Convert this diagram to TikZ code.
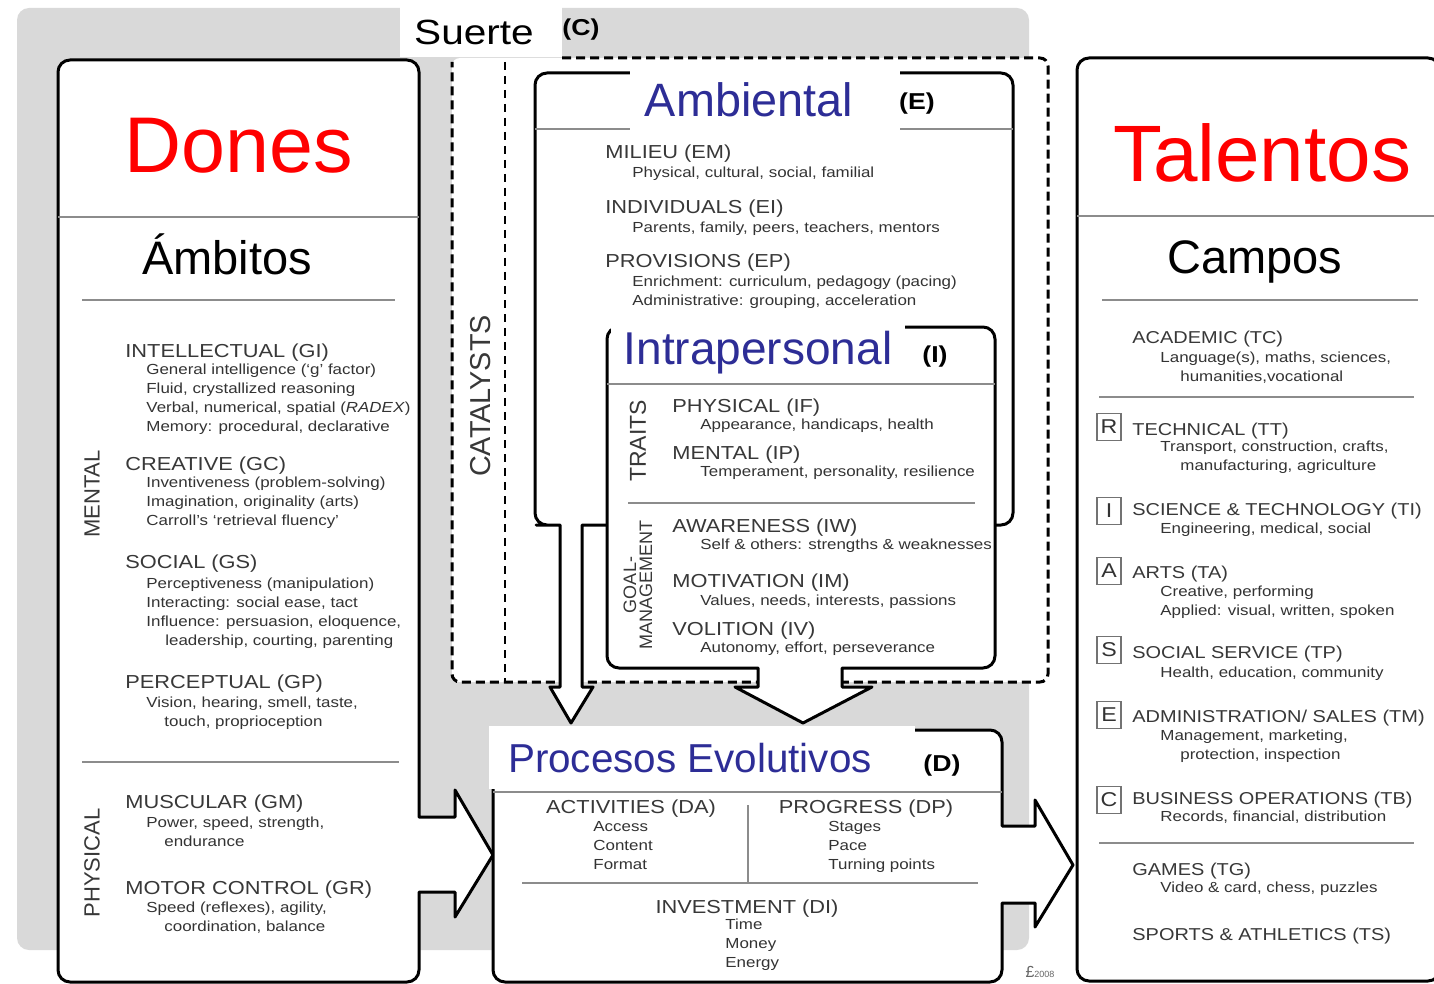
\documentclass[tikz,border=0pt]{standalone}
\usepackage{fontspec}
\setmainfont{Liberation Sans}
\newfontfamily\widefont[FakeStretch=1.16]{Liberation Sans}
\usepackage{tikz}

\definecolor{bggray}{RGB}{217,217,217}
\definecolor{titlered}{RGB}{255,0,0}
\definecolor{titleblue}{RGB}{45,45,150}

\begin{document}
\begin{tikzpicture}[x=0.5pt,y=-0.5pt,
  box/.style={draw=black, line width=1.5pt, fill=white, line join=round},
  sep/.style={draw=black!45, line width=0.75pt},
  catline/.style={line width=1.5pt, dash pattern=on 4.5pt off 2.5pt},
  head/.style={anchor=base west, inner sep=0pt, text=black!78, font=\widefont\fontsize{9.4}{11}\selectfont},
  rhead/.style={head, font=\widefont\fontsize{8.6}{11}\selectfont},
  sub/.style={anchor=north west, inner sep=0pt, align=left, text=black!80, font=\widefont\fontsize{7.3}{9.5}\selectfont},
  side/.style={rotate=90, inner sep=0pt, text=black!78},
  tag/.style={inner sep=0pt, font=\widefont\bfseries\fontsize{11.5}{13}\selectfont},
  lbox/.style={draw=black!55, line width=0.6pt, minimum width=12pt, minimum height=13.5pt, inner sep=0pt, text=black!80, font=\widefont\fontsize{10}{10}\selectfont},
  big/.style={anchor=base, inner sep=0pt}]
\useasboundingbox (0,0) rectangle (1434,984);

% background and catalysts area
\fill[bggray, rounded corners=6pt] (17,8) rectangle (1029,950);
\fill[white, rounded corners=4pt] (452,58) rectangle (1048,682);
\fill[white] (400,0) rectangle (562,57);
\draw[catline, rounded corners=4pt] (562,58) -- (1048,58) -- (1048,682) -- (452,682) -- (452,62);
\draw[line width=1pt, dash pattern=on 4pt off 3pt] (505,62) -- (505,682);

% gifts
\draw[box] (419,817) -- (419,500) [rounded corners=6pt] -- (419,60) -- (58,60) -- (58,982) -- (419,982) -- (419,940) [sharp corners] -- (419,892) -- (455,892) -- (455,917) -- (493,855) -- (455,790) -- (455,817) -- cycle;

% environment
\draw[box, rounded corners=6pt] (995,525) -- (1013,525) -- (1013,73) -- (535,73) -- (535,525) -- (548,525) [sharp corners] -- (560,525) -- (560,687) -- (550,687) -- (571,723) -- (593,687) -- (582,687) -- (582,525) -- (606,525) -- cycle;

% intrapersonal
\draw[box] (758,668) -- (758,687) -- (735,687) -- (803,723) -- (872,687) -- (842,687) -- (842,668) -- (900,668) [rounded corners=6pt] -- (995,668) -- (995,327) -- (607,327) -- (607,668) -- (700,668) [sharp corners] -- cycle;

% developmental process
\draw[box] (1002,826) -- (1035,826) -- (1035,800) -- (1073,865) -- (1035,927) -- (1035,903) -- (1002,903) -- (1002,940) [rounded corners=6pt] -- (1002,982) -- (493,982) -- (493,730) -- (1002,730) -- (1002,780) [sharp corners] -- cycle;

% talents
\draw[box, rounded corners=6pt] (1077,58) rectangle (1440,981);

\draw[sep] (58,217) -- (419,217);
\draw[sep] (82,300) -- (395,300);
\draw[sep] (82,762) -- (399,762);
\draw[sep] (535,129) -- (1013,129);
\draw[sep] (607,384) -- (995,384);
\draw[sep] (628,503) -- (975,503);
\draw[sep] (493,792) -- (1002,792);
\draw[sep] (748,805) -- (748,882);
\draw[sep] (522,883) -- (978,883);
\draw[sep] (1077,216) -- (1440,216);
\draw[sep] (1102,300) -- (1418,300);
\draw[sep] (1099,397) -- (1414,397);
\draw[sep] (1099,843) -- (1414,843);

\fill[white] (630,62) rectangle (900,132);
\fill[white] (611,316) rectangle (905,381);
\fill[white] (489,726) rectangle (915,789);

% titles
\node[big, text=titlered, font=\fontsize{39.5}{40}\selectfont] (dones) at (239,173) {Dones};
\node[big, font=\fontsize{23.5}{24}\selectfont] (ambitos) at (227,275) {Ámbitos};
\node[big, text=titlered, font=\fontsize{40}{40}\selectfont] (talentos) at (1262,182) {Talentos};
\node[big, font=\fontsize{23.5}{24}\selectfont] (campos) at (1255,273) {Campos};
\node[big, font=\widefont\fontsize{17.5}{18}\selectfont] (suerte) at (474,45) {Suerte};
\node[tag] (tagc) at (581,30) {(C)};
\node[big, text=titleblue, font=\fontsize{23.4}{24}\selectfont] (ambiental) at (749,117) {Ambiental};
\node[tag] (tage) at (917,104) {(E)};
\node[big, text=titleblue, font=\fontsize{23}{24}\selectfont] (intra) at (758,364) {Intrapersonal};
\node[tag] (tagi) at (935,357) {(I)};
\node[big, text=titleblue, font=\fontsize{20.2}{21}\selectfont] (proc) at (690,772) {Procesos Evolutivos};
\node[tag] (tagd) at (942,766) {(D)};

% gifts
\node[side, font=\fontsize{11}{13}\selectfont] (mental) at (92,494) {MENTAL};
\node[side, font=\fontsize{11}{13}\selectfont] (physical) at (92,863) {PHYSICAL};
\node[head] (gi) at (125,357) {INTELLECTUAL (GI)};
\node[sub] (gil) at (146,364) {General intelligence (‘g’ factor)\\Fluid, crystallized reasoning\\Verbal, numerical, spatial (\textit{RADEX})\\Memory: procedural, declarative};
\node[head] (gc) at (125,470) {CREATIVE (GC)};
\node[sub] (gcl) at (146,477) {Inventiveness (problem-solving)\\Imagination, originality (arts)\\Carroll’s ‘retrieval fluency’};
\node[head] (gs) at (125,568) {SOCIAL (GS)};
\node[sub] (gsl) at (146,578) {Perceptiveness (manipulation)\\Interacting: social ease, tact\\Influence: persuasion, eloquence,\\\hspace*{9.5pt}leadership, courting, parenting};
\node[head] (gp) at (125,688) {PERCEPTUAL (GP)};
\node[sub] (gpl) at (146,697) {Vision, hearing, smell, taste,\\\hspace*{9pt}touch, proprioception};
\node[head] (gm) at (125,808) {MUSCULAR (GM)};
\node[sub] (gml) at (146,817) {Power, speed, strength,\\\hspace*{9pt}endurance};
\node[head] (gr) at (125,894) {MOTOR CONTROL (GR)};
\node[sub] (grl) at (146,902) {Speed (reflexes), agility,\\\hspace*{9pt}coordination, balance};

% catalysts
\node[side, font=\fontsize{14.4}{16}\selectfont] (cat) at (481,396) {CATALYSTS};
\node[head] (em) at (605,159) {MILIEU (EM)};
\node[sub] (eml) at (632,167) {Physical, cultural, social, familial};
\node[head] (ei) at (605,214) {INDIVIDUALS (EI)};
\node[sub] (eil) at (632,222) {Parents, family, peers, teachers, mentors};
\node[head] (ep) at (605,268) {PROVISIONS (EP)};
\node[sub] (epl) at (632,276) {Enrichment: curriculum, pedagogy (pacing)\\Administrative: grouping, acceleration};
\node[side, font=\fontsize{11.5}{13}\selectfont] (traits) at (638,441) {TRAITS};
\node[side, align=center, font=\fontsize{9}{8}\selectfont] (goal) at (638,585) {GOAL-\\MANAGEMENT};
\node[head] (if) at (672,412) {PHYSICAL (IF)};
\node[sub] (ifl) at (700,419) {Appearance, handicaps, health};
\node[head] (ip) at (672,459) {MENTAL (IP)};
\node[sub] (ipl) at (700,466) {Temperament, personality, resilience};
\node[head] (iw) at (672,532) {AWARENESS (IW)};
\node[sub] (iwl) at (700,539) {Self \& others: strengths \& weaknesses};
\node[head] (im) at (672,587) {MOTIVATION (IM)};
\node[sub] (iml) at (700,595) {Values, needs, interests, passions};
\node[head] (iv) at (672,635) {VOLITION (IV)};
\node[sub] (ivl) at (700,642) {Autonomy, effort, perseverance};

% process
\node[head, anchor=base] (da) at (631,813) {ACTIVITIES (DA)};
\node[sub] (dal) at (593,821) {Access\\Content\\Format};
\node[head, anchor=base] (dp) at (866,813) {PROGRESS (DP)};
\node[sub] (dpl) at (828,821) {Stages\\Pace\\Turning points};
\node[head, anchor=base] (di) at (747,913) {INVESTMENT (DI)};
\node[sub] (dil) at (725,919) {Time\\Money\\Energy};
\node[inner sep=0pt, text=black!60] (logo) at (1040,972) {{\fontsize{8}{8}\selectfont\textsterling}{\fontsize{4.5}{5}\selectfont 2008}};

% talents
\node[rhead] (tc) at (1132,343) {ACADEMIC (TC)};
\node[sub] (tcl) at (1160,352) {Language(s), maths, sciences,\\\hspace*{10pt}humanities,vocational};
\node[lbox] (lr) at (1109,427) {R};
\node[rhead] (tt) at (1132,435) {TECHNICAL (TT)};
\node[sub] (ttl) at (1160,441) {Transport, construction, crafts,\\\hspace*{10pt}manufacturing, agriculture};
\node[lbox] (li) at (1109,511) {I};
\node[rhead] (ti) at (1132,515) {SCIENCE \& TECHNOLOGY (TI)};
\node[sub] (til) at (1160,523) {Engineering, medical, social};
\node[lbox] (la) at (1109,571) {A};
\node[rhead] (ta) at (1132,578) {ARTS (TA)};
\node[sub] (tal) at (1160,586) {Creative, performing\\Applied: visual, written, spoken};
\node[lbox] (ls) at (1109,650) {S};
\node[rhead] (tp) at (1132,658) {SOCIAL SERVICE (TP)};
\node[sub] (tpl) at (1160,667) {Health, education, community};
\node[lbox] (le) at (1109,715) {E};
\node[rhead] (tm) at (1132,722) {ADMINISTRATION/ SALES (TM)};
\node[sub] (tml) at (1160,730) {Management, marketing,\\\hspace*{10pt}protection, inspection};
\node[lbox] (lc) at (1109,800) {C};
\node[rhead] (tb) at (1132,804) {BUSINESS OPERATIONS (TB)};
\node[sub] (tbl) at (1160,811) {Records, financial, distribution};
\node[rhead] (tg) at (1132,875) {GAMES (TG)};
\node[sub] (tgl) at (1160,882) {Video \& card, chess, puzzles};
\node[rhead] (ts) at (1132,940) {SPORTS \& ATHLETICS (TS)};
\end{tikzpicture}
\end{document}
